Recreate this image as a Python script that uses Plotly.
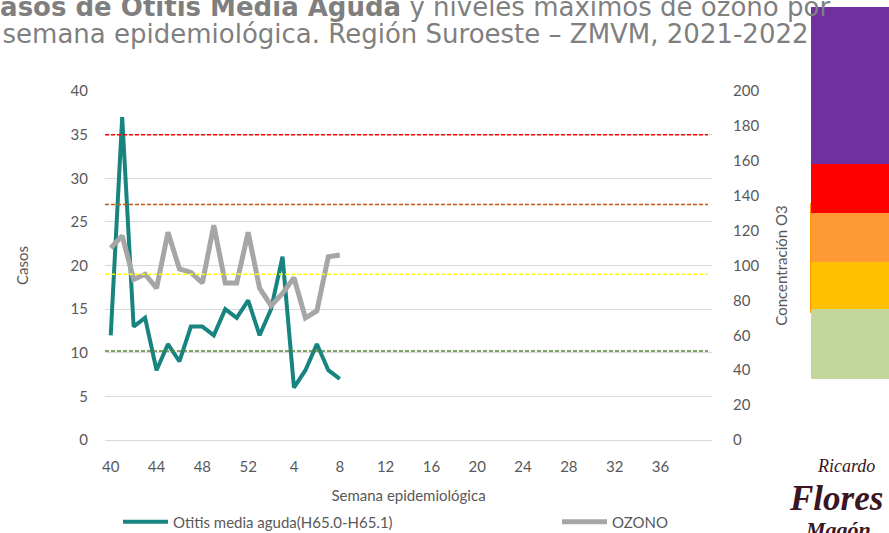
import plotly.graph_objects as go

# Semanas epidemiológicas 40/2021 a 40/2022
semanas = [str(s) for s in list(range(40, 53)) + list(range(1, 41))]
otitis = [12, 37, 13, 14, 8, 11, 9, 13, 13, 12, 15, 14, 16, 12, 15, 21, 6, 8, 11, 8, 7]
ozono = [110, 117, 92, 95, 87, 119, 98, 96, 90, 123, 90, 90, 119, 87, 77, 84, 93, 70, 74, 105, 106]

# Límites del índice de calidad del aire para ozono (ppb)
umbrales_o3 = [51, 95, 135, 175]
colores_umbral = ["#548235", "#FFFF00", "#C55A11", "#FF0000"]

# Escala de colores del índice (de arriba hacia abajo)
escala_colores = ["#7030A0", "#FF0000", "#FF9933", "#FFC000", "#C4D79B"]
escala_bordes = [7, 164, 213, 262, 309, 379]

W, H = 889, 533
L, R, T, B = 105, 712, 91, 440  # área de trazado en px


def px(x):
    return (x - L) / (R - L)


def py(y):
    return (B - y) / (B - T)


GRIS = "#595959"
FUENTE = "Lato"

fig = go.Figure()
fig.add_trace(go.Scatter(
    x=list(range(len(otitis))), y=otitis, mode="lines",
    name="Otitis media aguda(H65.0-H65.1)",
    line=dict(color="#178480", width=4), yaxis="y", legend="legend"))
fig.add_trace(go.Scatter(
    x=list(range(len(ozono))), y=ozono, mode="lines", name="OZONO",
    line=dict(color="#A6A6A6", width=5), yaxis="y2", legend="legend2"))

shapes = []
for v, c in zip(umbrales_o3, colores_umbral):
    shapes.append(dict(type="line", xref="paper", yref="y2", x0=0, x1=px(708),
                       y0=v, y1=v, line=dict(color=c, width=1.5, dash="4px,2px")))

# marco naranja detrás de la escala
shapes.append(dict(type="rect", xref="paper", yref="paper", x0=px(810), x1=px(890),
                   y0=py(313), y1=py(203), line=dict(width=0), fillcolor="#FF9900"))
for i, c in enumerate(escala_colores):
    shapes.append(dict(type="rect", xref="paper", yref="paper", x0=px(811), x1=px(890),
                       y0=py(escala_bordes[i + 1]), y1=py(escala_bordes[i]),
                       line=dict(width=0), fillcolor=c))

LOGO = "#3A1522"
titulo = ("<span style='font-size:26px'><b>Casos de Otitis Media Aguda</b> "
          "y niveles máximos de ozono por</span><br>"
          "<span style='font-size:26px'>semana epidemiológica. "
          "Región Suroeste – ZMVM, 2021-2022</span>")
annotations = [
    dict(text=titulo, xref="paper", yref="paper", x=px(405), y=py(21),
         xanchor="center", yanchor="middle", showarrow=False,
         font=dict(family="DejaVu Sans", size=21, color="#7F7F7F")),
    # logotipo
    dict(text="<i>Ricardo</i>", xref="paper", yref="paper", x=px(846), y=py(466),
         xanchor="center", yanchor="middle", showarrow=False,
         font=dict(family="Liberation Serif", size=18, color=LOGO)),
    dict(text="<b><i>Flores</i></b>", xref="paper", yref="paper", x=px(836), y=py(498),
         xanchor="center", yanchor="middle", showarrow=False,
         font=dict(family="Liberation Serif", size=35, color=LOGO)),
    dict(text="<b><i>Magón</i></b>", xref="paper", yref="paper", x=px(838), y=py(529),
         xanchor="center", yanchor="middle", showarrow=False,
         font=dict(family="Liberation Serif", size=22, color=LOGO)),
]

LEYENDA = dict(orientation="h", yanchor="middle", xanchor="left", y=py(522),
               font=dict(family=FUENTE, size=15, color=GRIS),
               bgcolor="rgba(0,0,0,0)", itemwidth=45)

fig.update_layout(
    width=W, height=H,
    margin=dict(l=L, r=W - R, t=T, b=H - B, pad=0, autoexpand=False),
    paper_bgcolor="white", plot_bgcolor="white",
    font=dict(family=FUENTE, size=15, color=GRIS),
    showlegend=True,
    legend=dict(LEYENDA, x=px(118)),
    legend2=dict(LEYENDA, x=px(557)),
    xaxis=dict(range=[-0.5, 52.5], tickmode="array", tickvals=list(range(0, 49, 4)),
               ticktext=[semanas[i] for i in range(0, 49, 4)], showgrid=False,
               zeroline=False, showline=False, ticks="", ticklabelstandoff=16,
               title=dict(text="Semana epidemiológica", standoff=16,
                          font=dict(family=FUENTE, size=15, color=GRIS))),
    yaxis=dict(range=[0, 40], dtick=5, showgrid=True, gridcolor="#D9D9D9", gridwidth=1,
               zeroline=True, zerolinecolor="#D9D9D9", zerolinewidth=1, showline=False,
               ticks="", ticklabelstandoff=16,
               title=dict(text="Casos", standoff=38,
                          font=dict(family=FUENTE, size=15, color=GRIS))),
    yaxis2=dict(range=[0, 200], dtick=20, overlaying="y", side="right", showgrid=False,
                zeroline=False, showline=False, ticks="", ticklabelstandoff=20,
                title=dict(text="Concentración O3", standoff=18,
                           font=dict(family=FUENTE, size=15, color=GRIS))),
    shapes=shapes,
    annotations=annotations,
)

fig.write_html("out.html")
